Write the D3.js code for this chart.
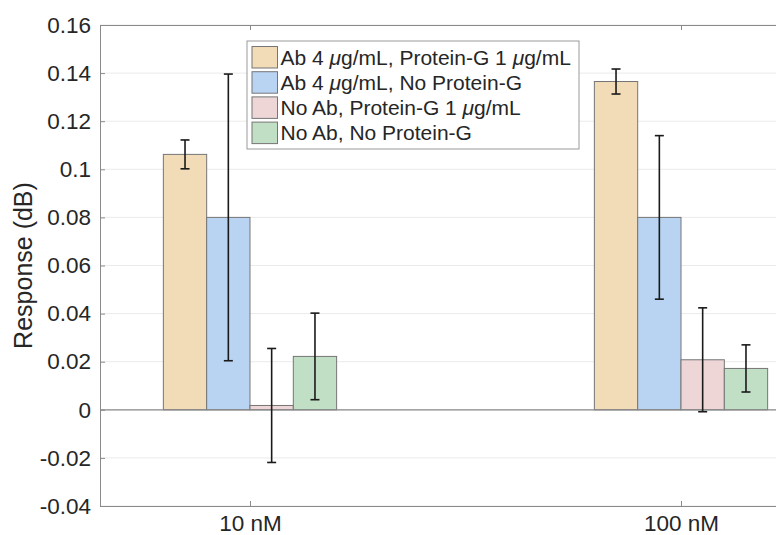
<!DOCTYPE html>
<html>
<head>
<meta charset="utf-8">
<script src="https://cdn.jsdelivr.net/npm/d3@7"></script>
<style>
  body { margin: 0; background: #fff; }
  text { font-family: "Liberation Sans", Arial, Helvetica, sans-serif; fill: #262626; }
</style>
</head>
<body>
<div id="chart"></div>
<script>
// data
var categories = ["10 nM", "100 nM"];
var seriesNames = [
  ["Ab 4 ", "\u03bc", "g/mL, Protein-G 1 ", "\u03bc", "g/mL"],
  ["Ab 4 ", "\u03bc", "g/mL, No Protein-G"],
  ["No Ab, Protein-G 1 ", "\u03bc", "g/mL"],
  ["No Ab, No Protein-G"]
];
var seriesColors = ["#f2dcb7", "#b9d4f2", "#eed6d7", "#c1dfc5"];
var means = [
  [0.1062, 0.0800, 0.0018, 0.0222],
  [0.1365, 0.0800, 0.0208, 0.0172]
];
var errs = [
  [0.0060, 0.0596, 0.0237, 0.0180],
  [0.0052, 0.0340, 0.0216, 0.0098]
];
var yTicks = [-0.04, -0.02, 0, 0.02, 0.04, 0.06, 0.08, 0.1, 0.12, 0.14, 0.16];

(function() {
  var width = 776, height = 535;
  var svg = d3.select("#chart").append("svg")
    .attr("width", width)
    .attr("height", height);

  // plot box runs past the right edge, like the cropped original
  var pLeft = 100, pTop = 25, pBottom = 506, pRight = 831;

  var x = d3.scaleLinear().domain([0.652, 2.348]).range([pLeft, pRight]);
  var y = d3.scaleLinear().domain([-0.04, 0.16]).range([pBottom, pTop]);

  var nSeries = seriesNames.length;
  var groupHalf = 0.201;
  var barW = (groupHalf * 2) / nSeries;

  // grid
  svg.append("g").selectAll("line")
    .data(yTicks)
    .enter()
    .append("line")
    .attr("x1", pLeft)
    .attr("x2", pRight)
    .attr("y1", function(d) { return y(d); })
    .attr("y2", function(d) { return y(d); })
    .attr("stroke", "#ebebeb")
    .attr("stroke-width", 1);

  // bars
  var bars = [];
  means.forEach(function(row, gi) {
    row.forEach(function(v, si) {
      bars.push({ g: gi, s: si, v: v, e: errs[gi][si] });
    });
  });

  function barX(d) {
    return x(d.g + 1 - groupHalf + d.s * barW);
  }

  svg.append("g").selectAll("rect")
    .data(bars)
    .enter()
    .append("rect")
    .attr("x", barX)
    .attr("width", function(d) { return x(barW) - x(0); })
    .attr("y", function(d) { return y(Math.max(0, d.v)); })
    .attr("height", function(d) { return Math.abs(y(d.v) - y(0)); })
    .attr("fill", function(d) { return seriesColors[d.s]; })
    .attr("stroke", "#757575")
    .attr("stroke-width", 1);

  // baseline at zero
  svg.append("line")
    .attr("x1", pLeft).attr("x2", pRight)
    .attr("y1", y(0)).attr("y2", y(0))
    .attr("stroke", "#8a8a8a")
    .attr("stroke-width", 1.2);

  // error bars
  var eb = svg.append("g").attr("stroke", "#1a1a1a").attr("stroke-width", 1.6);
  bars.forEach(function(d) {
    var cx = x(d.g + 1 - groupHalf + (d.s + 0.5) * barW);
    var y1 = y(d.v + d.e), y2 = y(d.v - d.e);
    eb.append("line").attr("x1", cx).attr("x2", cx).attr("y1", y1).attr("y2", y2);
    eb.append("line").attr("x1", cx - 4.5).attr("x2", cx + 4.5).attr("y1", y1).attr("y2", y1);
    eb.append("line").attr("x1", cx - 4.5).attr("x2", cx + 4.5).attr("y1", y2).attr("y2", y2);
  });

  // axes
  var yAxis = d3.axisLeft(y)
    .tickValues(yTicks)
    .tickSize(-5)
    .tickPadding(9)
    .tickFormat(function(d) { return String(+d.toFixed(2)); });

  var gy = svg.append("g").attr("transform", "translate(" + pLeft + ",0)").call(yAxis);
  gy.select(".domain").attr("stroke", "#8a8a8a");
  gy.selectAll(".tick line").attr("stroke", "#8a8a8a");
  gy.selectAll("text")
    .attr("font-size", 22.5)
    .attr("fill", "#262626");

  var xAxis = d3.axisBottom(x)
    .tickValues([1, 2])
    .tickSize(-5)
    .tickPadding(9)
    .tickFormat(function(d) { return categories[d - 1]; });

  var gx = svg.append("g").attr("transform", "translate(0," + pBottom + ")").call(xAxis);
  gx.select(".domain").attr("stroke", "#8a8a8a");
  gx.selectAll(".tick line").attr("stroke", "#8a8a8a");
  gx.selectAll("text").attr("font-size", 22.5).attr("fill", "#262626");

  // top box edge with ticks
  var gt = svg.append("g").attr("transform", "translate(0," + pTop + ")")
    .call(d3.axisTop(x).tickValues([1, 2]).tickSize(-5).tickFormat(""));
  gt.select(".domain").attr("stroke", "#8a8a8a");
  gt.selectAll(".tick line").attr("stroke", "#8a8a8a");

  // y label
  svg.append("text")
    .attr("transform", "translate(32," + ((pTop + pBottom) / 2) + ") rotate(-90)")
    .attr("text-anchor", "middle")
    .attr("font-size", 25)
    .text("Response (dB)");

  // legend
  var lg = svg.append("g").attr("transform", "translate(247,41)");
  lg.append("rect")
    .attr("width", 332).attr("height", 108)
    .attr("fill", "#fff")
    .attr("stroke", "#9a9a9a")
    .attr("stroke-width", 1);

  seriesNames.forEach(function(parts, i) {
    var row = lg.append("g").attr("transform", "translate(0," + (16 + i * 25.2) + ")");
    row.append("rect")
      .attr("x", 5).attr("y", -10.5)
      .attr("width", 25.5).attr("height", 21.5)
      .attr("fill", seriesColors[i])
      .attr("stroke", "#757575");
    var t = row.append("text")
      .attr("x", 33.5).attr("y", 7.5)
      .attr("font-size", 21);
    parts.forEach(function(p) {
      var ts = t.append("tspan").text(p);
      if (p === "\u03bc") ts.attr("font-style", "italic");
    });
  });
})();
</script>
</body>
</html>
